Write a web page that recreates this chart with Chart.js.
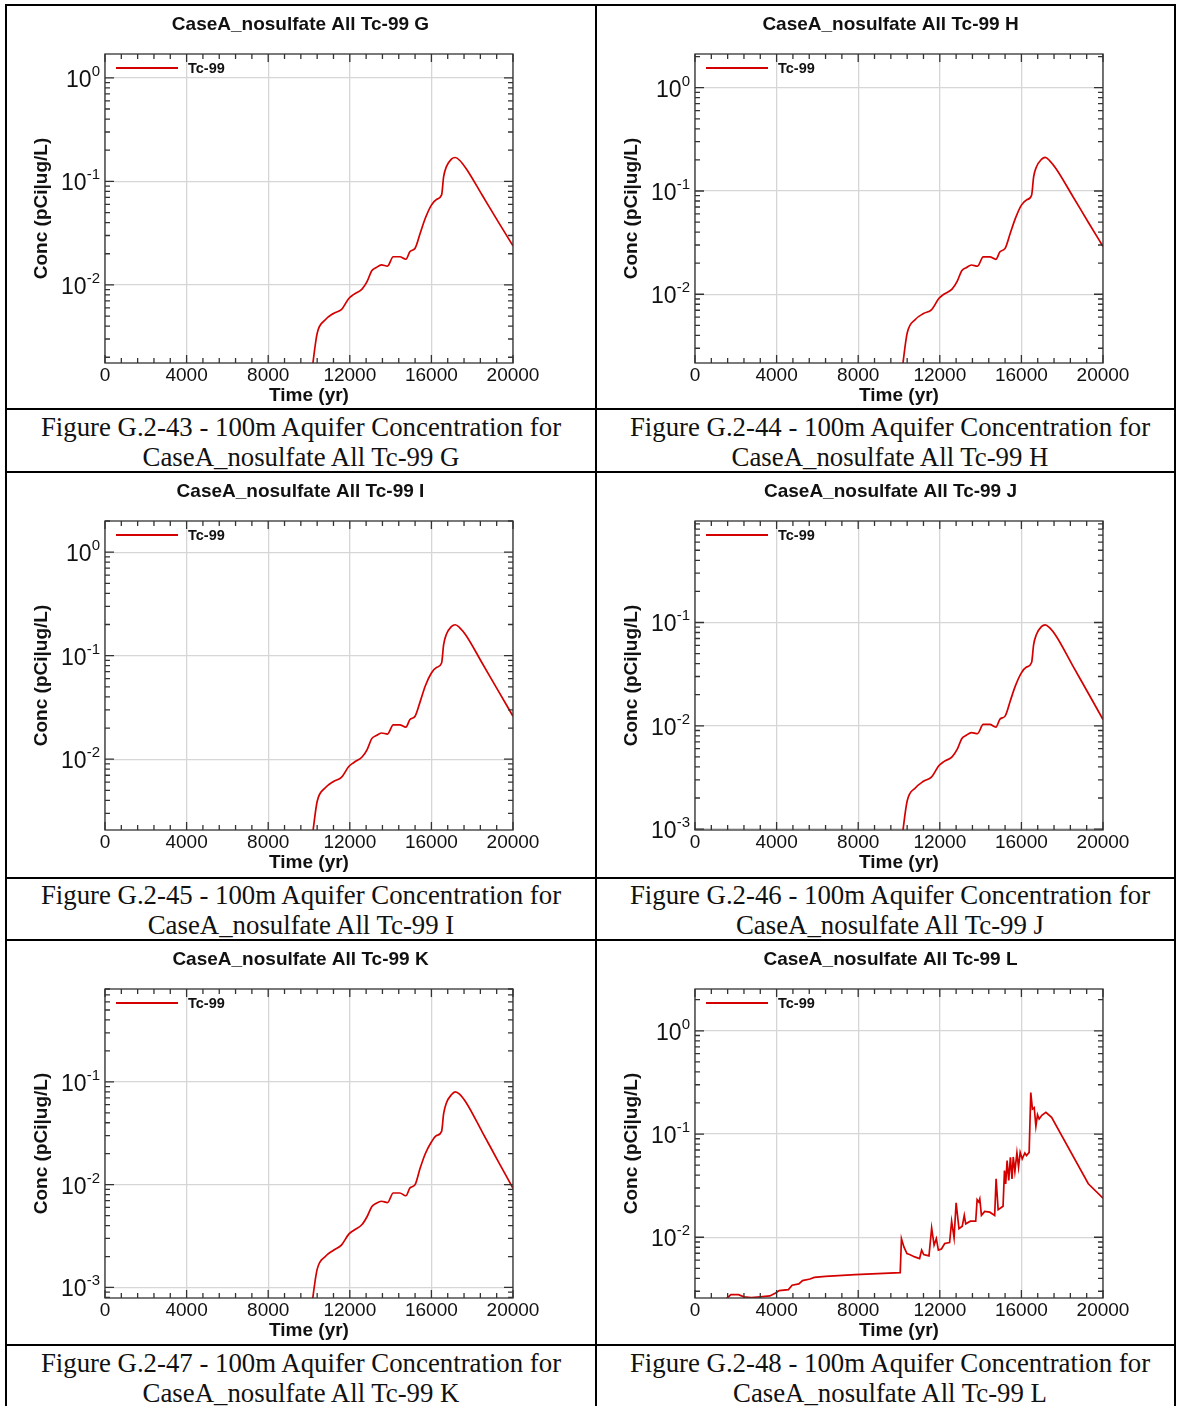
<!DOCTYPE html>
<html>
<head>
<meta charset="utf-8">
<script src="https://cdn.jsdelivr.net/npm/chart.js@4.4.1/dist/chart.umd.min.js"></script>
<style>
  html, body { margin: 0; padding: 0; background: #fff; }
  #page { position: relative; width: 1177px; height: 1406px; overflow: hidden; background: #fff; }
  .rule { position: absolute; background: #000; }
  .cap { position: absolute; text-align: center; font-family: 'Liberation Serif', 'Times New Roman', serif; font-size: 26.8px; line-height: 30px; color: #111; }
  canvas { position: absolute; }
</style>
</head>
<body>
<div id="page"></div>
<script>
// ---- data ----
// time points (yr) shared by the smooth runs G..K
const timeMain = [10100, 10200, 10400, 10800, 11200, 11600, 11950, 12200, 12600, 12850, 13075, 13300, 13550, 13850, 14130, 14450, 14750, 14950, 15200, 15450, 15700, 16000, 16250, 16500, 16600, 16730, 16980, 17170, 17380, 17700, 18500, 19300, 20000];

const concG = [0.0012, 0.0018, 0.0034, 0.0046, 0.0053, 0.0058, 0.0074, 0.0081, 0.0091, 0.0108, 0.0137, 0.0147, 0.0156, 0.0152, 0.0187, 0.0187, 0.0177, 0.021, 0.0226, 0.0315, 0.044, 0.059, 0.067, 0.074, 0.111, 0.138, 0.164, 0.17, 0.16, 0.133, 0.073, 0.040, 0.0238];
const concH = [0.0015, 0.0022, 0.0042, 0.0057, 0.0065, 0.0071, 0.0091, 0.0100, 0.0112, 0.0133, 0.0169, 0.0181, 0.0192, 0.0187, 0.0230, 0.0230, 0.0218, 0.0258, 0.0278, 0.0387, 0.054, 0.073, 0.082, 0.091, 0.137, 0.170, 0.202, 0.212, 0.197, 0.164, 0.090, 0.049, 0.029];
const concI = [0.0014, 0.00205, 0.0039, 0.0053, 0.0061, 0.0067, 0.0085, 0.0093, 0.0105, 0.0124, 0.0158, 0.0169, 0.0179, 0.0175, 0.0215, 0.0215, 0.0204, 0.0242, 0.026, 0.036, 0.051, 0.068, 0.077, 0.085, 0.128, 0.160, 0.191, 0.199, 0.187, 0.157, 0.084, 0.045, 0.026];
const concJ = [0.00066, 0.00099, 0.00187, 0.0025, 0.0029, 0.0032, 0.0041, 0.0045, 0.0050, 0.0059, 0.0075, 0.0081, 0.0086, 0.0084, 0.0103, 0.0103, 0.0097, 0.0116, 0.0124, 0.0173, 0.0242, 0.0325, 0.037, 0.041, 0.061, 0.076, 0.091, 0.095, 0.089, 0.074, 0.0387, 0.0203, 0.0115];
const concK = [0.00055, 0.00083, 0.0015, 0.0020, 0.0023, 0.0026, 0.0033, 0.0036, 0.0041, 0.0049, 0.0061, 0.0066, 0.0069, 0.0067, 0.0083, 0.0083, 0.0078, 0.0093, 0.0100, 0.0145, 0.020, 0.026, 0.030, 0.033, 0.049, 0.062, 0.075, 0.080, 0.076, 0.063, 0.0323, 0.0165, 0.0092];

// run L is spiky, its own time points
const timeL = [1500, 1760, 2130, 2400, 2760, 3200, 3670, 3950, 4130, 4580, 4760, 5090, 5270, 5640, 5850, 6400, 7850, 10060, 10120, 10240, 10390, 10520, 10770, 11010, 11110, 11210, 11470, 11600, 11720, 11830, 11930, 12080, 12240, 12480, 12580, 12700, 12800, 12940, 13100, 13200, 13270, 13500, 13760, 13830, 13910, 13960, 14040, 14200, 14450, 14690, 14760, 14860, 15100, 15170, 15230, 15300, 15380, 15460, 15540, 15600, 15680, 15780, 15860, 15940, 16040, 16170, 16250, 16380, 16460, 16540, 16630, 16710, 16790, 16870, 17000, 17200, 17480, 19280, 20000];
const concL = [0.0025, 0.00278, 0.00278, 0.00265, 0.0026, 0.00265, 0.0027, 0.00289, 0.00304, 0.00311, 0.00343, 0.00353, 0.0038, 0.00394, 0.00409, 0.00418, 0.00434, 0.00455, 0.0097, 0.00807, 0.00696, 0.0068, 0.00645, 0.00622, 0.0075, 0.0068, 0.0066, 0.0123, 0.00838, 0.0097, 0.0075, 0.0077, 0.0087, 0.0089, 0.0143, 0.00986, 0.0216, 0.0121, 0.0128, 0.0163, 0.0135, 0.0143, 0.0143, 0.0231, 0.022, 0.0236, 0.0163, 0.0178, 0.0175, 0.0163, 0.0368, 0.0185, 0.020, 0.0442, 0.0329, 0.0553, 0.0355, 0.0595, 0.0368, 0.060, 0.0433, 0.0656, 0.0477, 0.0665, 0.0574, 0.0656, 0.062, 0.0665, 0.252, 0.174, 0.18, 0.119, 0.154, 0.14, 0.152, 0.162, 0.145, 0.033, 0.0239];

const xTicks = [0, 4000, 8000, 12000, 16000, 20000];
const runNames = ['G', 'H', 'I', 'J', 'K', 'L'];
const figNumbers = ['G.2-43', 'G.2-44', 'G.2-45', 'G.2-46', 'G.2-47', 'G.2-48'];
const runTimes = [timeMain, timeMain, timeMain, timeMain, timeMain, timeL];
const runConcs = [concG, concH, concI, concJ, concK, concL];
const yMins = [0.00176, 0.00216, 0.00207, 0.00098, 0.00079, 0.00258];
const yMaxs = [1.70, 2.12, 2.0, 0.96, 0.80, 2.54];

// ---- page frame (table rules + captions) ----
const page = document.getElementById('page');
const RED = '#d40000';
const SANS = "'Liberation Sans', Arial, sans-serif";
const colLeft = [7, 597];
const rowTop = [6, 473, 941];
const capTop = [412, 880, 1348];

function rule(x, y, w, h) {
  const d = document.createElement('div');
  d.className = 'rule';
  Object.assign(d.style, { left: x + 'px', top: y + 'px', width: w + 'px', height: h + 'px' });
  page.appendChild(d);
}
[5, 595, 1174].forEach(x => rule(x, 4, 2, 1402));
[4, 408, 471, 877, 939, 1344].forEach(y => rule(5, y, 1171, 2));

// inward ticks, frame, tick labels, axis titles, legend, title
const decor = {
  id: 'decor',
  afterDatasetsDraw(chart, args, opts) {
    const { ctx, chartArea: a, scales: { x, y } } = chart;
    ctx.save();
    ctx.strokeStyle = '#333';
    ctx.lineWidth = 1.3;
    ctx.strokeRect(a.left, a.top, a.right - a.left, a.bottom - a.top);

    ctx.beginPath();
    for (let t = 0; t <= 20000; t += 800) {
      const px = x.getPixelForValue(t);
      const len = t % 4000 === 0 ? 8 : 5;
      ctx.moveTo(px, a.bottom); ctx.lineTo(px, a.bottom - len);
      ctx.moveTo(px, a.top); ctx.lineTo(px, a.top + len);
    }
    for (let e = -4; e <= 1; e++) {
      for (let m = 1; m <= 9; m++) {
        const v = m * Math.pow(10, e);
        if (v < y.min * 0.999 || v > y.max * 1.001) continue;
        const py = y.getPixelForValue(v);
        const len = m === 1 ? 9 : 5;
        ctx.moveTo(a.left, py); ctx.lineTo(a.left + len, py);
        ctx.moveTo(a.right, py); ctx.lineTo(a.right - len, py);
      }
    }
    ctx.stroke();

    ctx.fillStyle = '#111';
    // x tick labels
    ctx.font = '19px ' + SANS;
    ctx.textAlign = 'center';
    ctx.textBaseline = 'alphabetic';
    xTicks.forEach(t => ctx.fillText(String(t), x.getPixelForValue(t), a.bottom + 18));

    // y decade labels 10^n
    for (let e = -4; e <= 1; e++) {
      const v = Math.pow(10, e);
      if (v < y.min * 0.97 || v > y.max) continue;
      const py = y.getPixelForValue(v);
      const exp = String(e);
      ctx.textAlign = 'right';
      ctx.font = '15px ' + SANS;
      const ew = ctx.measureText(exp).width;
      ctx.fillText(exp, a.left - 5, py - 2);
      ctx.font = '23px ' + SANS;
      ctx.fillText('10', a.left - 5 - ew, py + 9);
    }

    // axis titles
    ctx.font = 'bold 19px ' + SANS;
    ctx.textAlign = 'center';
    ctx.fillText('Time (yr)', (a.left + a.right) / 2, a.bottom + 38);
    ctx.save();
    ctx.translate(a.left - 63, (a.top + a.bottom) / 2);
    ctx.rotate(-Math.PI / 2);
    ctx.textBaseline = 'middle';
    ctx.fillText('Conc (pCi|ug/L)', 0, 0);
    ctx.restore();

    // legend inside plot, top-left
    ctx.strokeStyle = RED;
    ctx.lineWidth = 2;
    ctx.beginPath();
    ctx.moveTo(a.left + 11, a.top + 14);
    ctx.lineTo(a.left + 73, a.top + 14);
    ctx.stroke();
    ctx.font = 'bold 14.5px ' + SANS;
    ctx.textAlign = 'left';
    ctx.textBaseline = 'middle';
    ctx.fillText('Tc-99', a.left + 83, a.top + 14.5);

    // chart title
    ctx.font = 'bold 19px ' + SANS;
    ctx.textAlign = 'center';
    ctx.fillText(opts.title, a.left + 195.5, a.top - 29);
    ctx.restore();
  }
};

runNames.forEach((name, i) => {
  const col = i % 2, row = Math.floor(i / 2);
  const canvas = document.createElement('canvas');
  canvas.width = 577;
  canvas.height = 400;
  canvas.style.left = colLeft[col] + 'px';
  canvas.style.top = rowTop[row] + 'px';
  page.appendChild(canvas);

  const cap = document.createElement('div');
  cap.className = 'cap';
  cap.style.left = (col === 0 ? 7 : 597) + 'px';
  cap.style.width = (col === 0 ? 588 : 586) + 'px';
  cap.style.top = capTop[row] + 'px';
  cap.innerHTML = `Figure ${figNumbers[i]} - 100m Aquifer Concentration for<br>CaseA_nosulfate All Tc-99 ${name}`;
  page.appendChild(cap);

  const times = runTimes[i], concs = runConcs[i];
  const spiky = name === 'L';

  new Chart(canvas, {
    type: 'line',
    data: {
      datasets: [{
        label: 'Tc-99',
        data: times.map((t, k) => ({ x: t, y: concs[k] })),
        borderColor: RED,
        borderWidth: 1.7,
        pointRadius: 0,
        fill: false,
        tension: 0,
        cubicInterpolationMode: spiky ? 'default' : 'monotone'
      }]
    },
    options: {
      responsive: false,
      animation: false,
      devicePixelRatio: 1,
      layout: { padding: { top: 48, right: 71, left: 0, bottom: 0 } },
      plugins: {
        legend: { display: false },
        tooltip: { enabled: false },
        decor: { title: `CaseA_nosulfate All Tc-99 ${name}` }
      },
      scales: {
        x: {
          type: 'linear', min: 0, max: 20000,
          afterBuildTicks: s => { s.ticks = xTicks.map(v => ({ value: v })); },
          afterFit: s => { s.height = 43; },
          ticks: { display: false },
          grid: { color: '#d6d6d6', lineWidth: 1.3, drawTicks: false },
          border: { display: false }
        },
        y: {
          type: 'logarithmic', min: yMins[i], max: yMaxs[i],
          afterBuildTicks: s => {
            const dec = [];
            for (let e = -4; e <= 1; e++) {
              const v = Math.pow(10, e);
              if (v >= s.min && v <= s.max) dec.push({ value: v });
            }
            s.ticks = dec;
          },
          afterFit: s => { s.width = 98; },
          ticks: { display: false },
          grid: { color: '#d6d6d6', lineWidth: 1.3, drawTicks: false },
          border: { display: false }
        }
      }
    },
    plugins: [decor]
  });
});
</script>
</body>
</html>
